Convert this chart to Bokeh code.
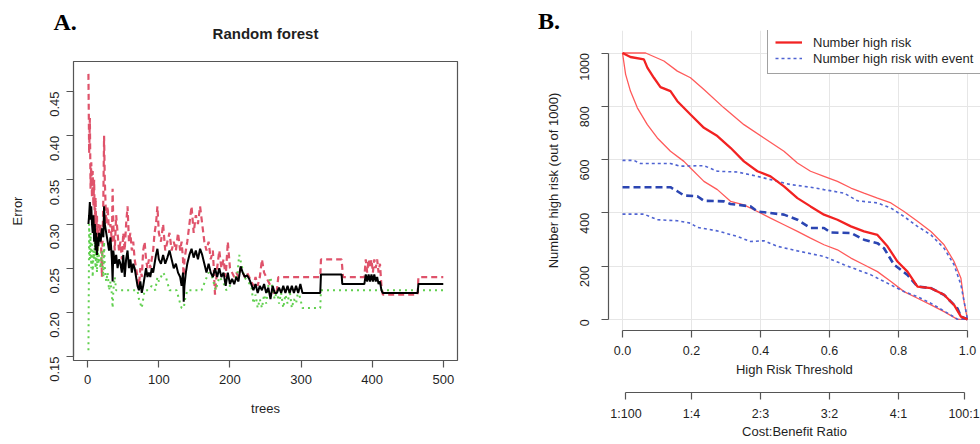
import math
from bokeh.plotting import figure
from bokeh.models import (Range1d, FixedTicker, PrintfTickFormatter, Legend, LegendItem, Div)
from bokeh.core.properties import value
from bokeh.layouts import row, column
from bokeh.embed import file_html
from bokeh.resources import INLINE

FONT = "Liberation Sans"
TXT = "#1f1f1f"
AX = "#555555"

# ---------------- Panel A data: random forest error rates ----------------
oob_trees = [1,2,3,4,5,6,7,8,9,10,11,12,13,14,15,16,18,20,22,23,24,26,28,30,32,34,35,36,38,40,
             42,44,46,48,50,52,54,56,58,60,62,64,66,68,70,72,74,76,78,80,82,84,86,88,90,92,94,96,98,100,
             103,106,109,112,115,118,121,124,127,130,132,134,135,136,138,140,143,146,149,152,155,158,161,164,
             167,170,173,176,179,182,185,188,191,194,197,200,203,206,209,212,215,218,221,224,227,230,233,236,
             239,242,245,248,251,254,257,260,263,266,269,272,275,278,281,284,287,290,293,296,299,302,310,320,
             327,328,340,357,358,370,389,391,393,395,397,399,401,403,405,407,409,411,413,415,430,450,464,465,480,500]
oob_err = [0.300,0.310,0.325,0.305,0.320,0.300,0.290,0.310,0.280,0.300,0.270,0.290,0.265,0.285,0.275,0.290,0.280,0.295,0.285,0.320,
           0.300,0.290,0.280,0.270,0.285,0.260,0.235,0.270,0.255,0.265,0.250,0.260,0.255,0.245,0.265,0.240,0.260,0.270,0.250,0.260,
           0.245,0.255,0.250,0.240,0.230,0.225,0.235,0.222,0.230,0.240,0.250,0.240,0.245,0.240,0.250,0.245,0.255,0.265,0.272,0.260,
           0.255,0.265,0.255,0.262,0.270,0.260,0.250,0.255,0.245,0.240,0.230,0.245,0.212,0.230,0.245,0.255,0.265,0.272,0.262,0.270,
           0.260,0.272,0.265,0.255,0.245,0.255,0.245,0.240,0.250,0.240,0.250,0.240,0.245,0.230,0.245,0.232,0.238,0.232,0.240,0.235,
           0.252,0.245,0.240,0.242,0.238,0.232,0.225,0.232,0.222,0.230,0.225,0.232,0.222,0.228,0.215,0.230,0.222,0.222,0.228,0.222,
           0.230,0.222,0.230,0.222,0.230,0.222,0.230,0.222,0.232,0.222,0.222,0.222,0.222,0.243,0.243,0.243,0.232,0.232,0.232,0.243,
           0.235,0.243,0.235,0.243,0.235,0.243,0.235,0.240,0.232,0.235,0.225,0.222,0.222,0.222,0.222,0.232,0.232,0.232]

c1_trees = [1,2,3,4,5,6,7,8,9,10,11,12,13,14,15,16,18,20,22,23,24,26,28,30,32,34,35,36,38,40,
            42,44,46,48,50,52,54,56,58,60,62,64,66,68,70,72,74,76,78,80,82,84,86,88,90,92,94,96,98,100,
            103,106,109,112,115,118,121,124,127,130,132,134,135,136,138,140,143,146,149,152,155,158,161,164,
            167,170,173,176,179,182,185,188,191,194,197,200,203,206,209,212,215,218,221,224,227,230,233,236,
            239,242,245,248,251,254,257,260,263,266,268,300,327,328,340,357,358,359,389,391,393,395,397,399,
            401,403,405,407,409,411,413,415,430,450,464,465,480,500]
c1_err = [0.470,0.380,0.420,0.340,0.370,0.330,0.360,0.320,0.350,0.300,0.330,0.290,0.310,0.270,0.300,0.280,0.300,0.240,0.330,0.400,
          0.350,0.300,0.320,0.290,0.300,0.280,0.340,0.300,0.270,0.310,0.290,0.270,0.280,0.260,0.290,0.270,0.300,0.320,0.280,0.290,
          0.270,0.280,0.260,0.250,0.240,0.230,0.250,0.240,0.270,0.280,0.260,0.250,0.260,0.250,0.260,0.270,0.290,0.300,0.320,0.290,
          0.280,0.300,0.270,0.280,0.290,0.270,0.280,0.270,0.290,0.270,0.280,0.260,0.230,0.260,0.270,0.280,0.300,0.320,0.290,0.310,
          0.300,0.320,0.300,0.280,0.270,0.280,0.260,0.270,0.220,0.250,0.270,0.250,0.260,0.240,0.280,0.250,0.245,0.240,0.245,0.240,
          0.250,0.245,0.240,0.245,0.240,0.235,0.230,0.240,0.230,0.240,0.260,0.245,0.240,0.235,0.230,0.225,0.220,0.225,0.240,0.240,
          0.240,0.260,0.260,0.260,0.250,0.240,0.240,0.260,0.245,0.260,0.250,0.260,0.245,0.260,0.250,0.260,0.245,0.255,0.230,0.220,
          0.220,0.220,0.220,0.240,0.240,0.240]

c2_trees = [1,2,3,4,5,6,7,8,9,10,11,12,13,14,15,16,18,20,22,23,24,26,28,30,32,34,35,36,38,40,
            50,60,70,72,74,76,78,80,85,90,95,98,100,106,110,115,125,130,132,135,137,140,150,160,165,170,175,
            180,185,190,195,200,205,210,213,216,220,225,230,233,236,239,242,245,248,251,254,257,260,263,266,
            269,272,275,278,281,284,287,290,293,296,299,302,315,327,328,400,500]
c2_err = [0.157,0.300,0.260,0.290,0.250,0.280,0.240,0.270,0.260,0.280,0.250,0.270,0.245,0.275,0.255,0.265,0.250,0.270,0.240,0.280,
          0.250,0.235,0.245,0.225,0.235,0.220,0.205,0.225,0.240,0.225,0.225,0.225,0.225,0.215,0.210,0.205,0.215,0.225,0.225,0.230,
          0.225,0.240,0.235,0.245,0.240,0.225,0.225,0.210,0.205,0.205,0.215,0.225,0.225,0.225,0.235,0.245,0.240,0.225,0.240,0.235,
          0.225,0.230,0.240,0.240,0.265,0.255,0.240,0.235,0.230,0.210,0.220,0.205,0.215,0.205,0.220,0.210,0.230,0.240,0.225,0.215,
          0.225,0.210,0.222,0.205,0.220,0.210,0.225,0.205,0.215,0.210,0.225,0.215,0.205,0.205,0.205,0.225,0.225,0.225]

a_xticks = [0, 100, 200, 300, 400, 500]
a_yticks = [0.15, 0.20, 0.25, 0.30, 0.35, 0.40, 0.45]

# ---------------- Panel B data: clinical impact curve ----------------
hr_t = [0, 0.023, 0.062, 0.072, 0.091, 0.110, 0.139, 0.159, 0.197, 0.236, 0.275, 0.313, 0.352, 0.391, 0.429, 0.468,
        0.507, 0.545, 0.584, 0.623, 0.662, 0.700, 0.739, 0.768, 0.797, 0.826, 0.855, 0.894, 0.932, 0.961, 0.981, 1.0]
hr_n = [1000, 985, 976, 945, 907, 872, 857, 819, 769, 719, 688, 644, 593, 556, 537, 499,
        455, 424, 393, 374, 349, 330, 317, 274, 217, 179, 123, 117, 92, 54, 10, 0]
hr_up_t = [0, 0.067, 0.12, 0.159, 0.197, 0.236, 0.294, 0.352, 0.41, 0.468, 0.507, 0.545, 0.584, 0.623, 0.662, 0.70,
           0.739, 0.778, 0.816, 0.855, 0.894, 0.932, 0.961, 0.981, 0.99, 1.0]
hr_up_n = [1000, 1000, 970, 932, 907, 863, 794, 731, 681, 631, 587, 556, 537, 518, 493, 474,
           455, 437, 405, 368, 330, 280, 217, 154, 66, 0]
hr_lo_t = [0, 0.009, 0.023, 0.043, 0.072, 0.101, 0.139, 0.178, 0.197, 0.236, 0.275, 0.313, 0.352, 0.391, 0.429,
           0.468, 0.507, 0.545, 0.584, 0.623, 0.662, 0.70, 0.739, 0.778, 0.816, 0.855, 0.894, 0.932, 0.971, 1.0]
hr_lo_n = [1000, 920, 857, 794, 731, 681, 631, 593, 568, 518, 487, 443, 430, 405, 380,
           355, 330, 305, 280, 261, 230, 205, 179, 142, 104, 79, 54, 29, 0, 0]
ev_t = [0, 0.139, 0.159, 0.178, 0.217, 0.236, 0.294, 0.313, 0.371, 0.391, 0.468, 0.507, 0.545, 0.584, 0.603,
        0.662, 0.70, 0.739, 0.758, 0.787, 0.826, 0.855, 0.894, 0.932, 0.971, 0.981, 1.0]
ev_n = [496, 496, 481, 465, 462, 445, 443, 433, 424, 405, 393, 374, 343, 343, 326,
        324, 299, 286, 267, 205, 167, 123, 117, 92, 41, 10, 0]
ev_up_t = [0, 0.033, 0.052, 0.139, 0.168, 0.236, 0.275, 0.333, 0.391, 0.449, 0.487, 0.545, 0.584, 0.642, 0.681,
           0.739, 0.778, 0.816, 0.855, 0.894, 0.932, 0.961, 0.981, 1.0]
ev_up_n = [597, 597, 585, 585, 575, 577, 556, 553, 537, 518, 506, 496, 487, 474, 445,
           437, 418, 386, 349, 317, 267, 205, 129, 0]
ev_lo_t = [0, 0.062, 0.101, 0.159, 0.197, 0.217, 0.275, 0.333, 0.371, 0.41, 0.449, 0.507, 0.584, 0.642, 0.681,
           0.72, 0.778, 0.816, 0.855, 0.894, 0.952, 0.971, 1.0]
ev_lo_n = [395, 395, 374, 370, 361, 345, 332, 311, 292, 295, 274, 257, 236, 205, 186,
           167, 129, 104, 85, 60, 16, 0, 0]

b_xticks = [0.0, 0.2, 0.4, 0.6, 0.8, 1.0]
b_yticks = [0, 200, 400, 600, 800, 1000]
cb_ticks = [0.01, 0.2, 0.4, 0.6, 0.8, 0.99]
cb_labels = ["1:100", "1:4", "2:3", "3:2", "4:1", "100:1"]


def style_axis(ax, size="13px"):
    ax.axis_line_color = AX
    ax.axis_line_width = 1.2
    ax.major_tick_line_color = AX
    ax.major_tick_line_width = 1.2
    ax.major_tick_out = 7
    ax.major_tick_in = 0
    ax.minor_tick_line_color = None
    ax.major_label_text_font = FONT
    ax.major_label_text_font_size = size
    ax.major_label_text_color = TXT
    ax.axis_label_text_font = FONT
    ax.axis_label_text_font_size = "13px"
    ax.axis_label_text_font_style = "normal"
    ax.axis_label_text_color = TXT


def header(width, height):
    h = figure(width=width, height=height, output_backend="svg", toolbar_location=None,
               x_range=Range1d(0, width), y_range=Range1d(0, height),
               x_axis_location=None, y_axis_location=None,
               min_border_left=0, min_border_right=0, min_border_top=0, min_border_bottom=0)
    h.grid.visible = False
    h.outline_line_color = None
    h.background_fill_color = "white"
    h.border_fill_color = "white"
    return h


# ---------------- Panel A ----------------
hA = header(490, 61)
hA.text(x=[53], y=[39.7], text=["A."], text_align="left", text_baseline="middle",
        text_font=value("Liberation Serif"), text_font_size="24px", text_font_style="bold", text_color="black")
hA.text(x=[265], y=[28.5], text=["Random forest"], text_align="center", text_baseline="middle",
        text_font=value(FONT), text_font_size="15px", text_font_style="bold", text_color=TXT)

pA = figure(width=490, height=383, output_backend="svg", toolbar_location=None,
            x_range=Range1d(-20, 520), y_range=Range1d(0.1455, 0.484),
            min_border_left=73, min_border_right=33, min_border_top=0, min_border_bottom=84)
pA.grid.visible = False
pA.outline_line_color = AX
pA.outline_line_width = 1.2
pA.background_fill_color = "white"
pA.border_fill_color = "white"

pA.line(c1_trees, c1_err, line_color="#DF536B", line_width=2.2, line_dash="6 4")
pA.line(c2_trees, c2_err, line_color="#61D04F", line_width=2, line_dash="2 4")
pA.line(oob_trees, oob_err, line_color="black", line_width=2)

xa = pA.xaxis[0]
style_axis(xa)
xa.ticker = FixedTicker(ticks=a_xticks)
xa.bounds = (0, 500)
xa.major_label_standoff = 7
xa.axis_label = "trees"
xa.axis_label_standoff = 14

ya = pA.yaxis[0]
style_axis(ya)
ya.ticker = FixedTicker(ticks=a_yticks)
ya.formatter = PrintfTickFormatter(format="%.2f")
ya.bounds = (0.15, 0.45)
ya.major_label_orientation = math.pi / 2
ya.major_label_standoff = 12
ya.axis_label = "Error"
ya.axis_label_standoff = 18

# ---------------- Panel B ----------------
hB = Div(text='<div style="position:relative;width:490px;height:30px;">'
              '<span style="position:absolute;left:48px;top:9px;font-family:\'Liberation Serif\';'
              'font-weight:bold;font-size:24px;line-height:24px;color:black;">B.</span></div>',
         width=490, height=30, margin=0)

pB = figure(width=490, height=354, output_backend="svg", toolbar_location=None,
            x_range=Range1d(-0.0406, 1.0377), y_range=Range1d(-42, 1084.5),
            min_border_left=118, min_border_right=0, min_border_top=0, min_border_bottom=54)
pB.outline_line_color = None
pB.background_fill_color = "white"
pB.border_fill_color = "white"
pB.xgrid.ticker = FixedTicker(ticks=b_xticks)
pB.ygrid.ticker = FixedTicker(ticks=b_yticks)
pB.grid.grid_line_color = "#E6E6E6"
pB.grid.grid_line_width = 1

r_up = pB.line(hr_up_t, hr_up_n, line_color="#FF5A5A", line_width=1.3)
r_lo = pB.line(hr_lo_t, hr_lo_n, line_color="#FF5A5A", line_width=1.3)
b_up = pB.line(ev_up_t, ev_up_n, line_color="#4F63D2", line_width=1.6, line_dash="3 3")
b_lo = pB.line(ev_lo_t, ev_lo_n, line_color="#4F63D2", line_width=1.6, line_dash="3 3")
b_mid = pB.line(ev_t, ev_n, line_color="#2B45B2", line_width=2.6, line_dash="7 4")
r_mid = pB.line(hr_t, hr_n, line_color="#F22222", line_width=2.3)

xb = pB.xaxis[0]
style_axis(xb, "12.5px")
xb.ticker = FixedTicker(ticks=b_xticks)
xb.formatter = PrintfTickFormatter(format="%.1f")
xb.bounds = (0, 1)
xb.major_label_standoff = 8
xb.axis_label = "High Risk Threshold"
xb.axis_label_standoff = 4

yb = pB.yaxis[0]
style_axis(yb, "12.5px")
yb.ticker = FixedTicker(ticks=b_yticks)
yb.bounds = (0, 1000)
yb.major_label_orientation = math.pi / 2
yb.major_label_standoff = 17
yb.axis_label = "Number high risk (out of 1000)"
yb.axis_label_standoff = 12

legend = Legend(items=[LegendItem(label="Number high risk", renderers=[r_mid]),
                       LegendItem(label="Number high risk with event", renderers=[b_up])],
                location=(159, 256), orientation="vertical")
legend.border_line_color = "#444444"
legend.border_line_width = 1.2
legend.background_fill_color = "white"
legend.background_fill_alpha = 1
legend.padding = 7
legend.spacing = 0
legend.margin = 0
legend.glyph_width = 27
legend.glyph_height = 16
legend.label_height = 16
legend.label_standoff = 11
legend.label_text_font = FONT
legend.label_text_font_size = "13px"
legend.label_text_color = TXT
pB.add_layout(legend)

# second axis (cost:benefit ratio)
pB2 = figure(width=490, height=60, output_backend="svg", toolbar_location=None,
             x_range=pB.x_range, y_range=Range1d(0, 1), y_axis_location=None,
             min_border_left=118, min_border_right=0, min_border_top=0, min_border_bottom=52)
pB2.outline_line_color = None
pB2.grid.visible = False
pB2.background_fill_color = "white"
pB2.border_fill_color = "white"
xc = pB2.xaxis[0]
style_axis(xc, "12.5px")
xc.ticker = FixedTicker(ticks=cb_ticks)
xc.major_label_overrides = {t: l for t, l in zip(cb_ticks, cb_labels)}
xc.bounds = (0.01, 0.99)
xc.major_label_standoff = 7
xc.axis_label = "Cost:Benefit Ratio"
xc.axis_label_standoff = 0

layout = row(column(row(hA), pA), column(hB, pB, pB2))

html = file_html(layout, INLINE)
open("out.html", "w").write(html)
